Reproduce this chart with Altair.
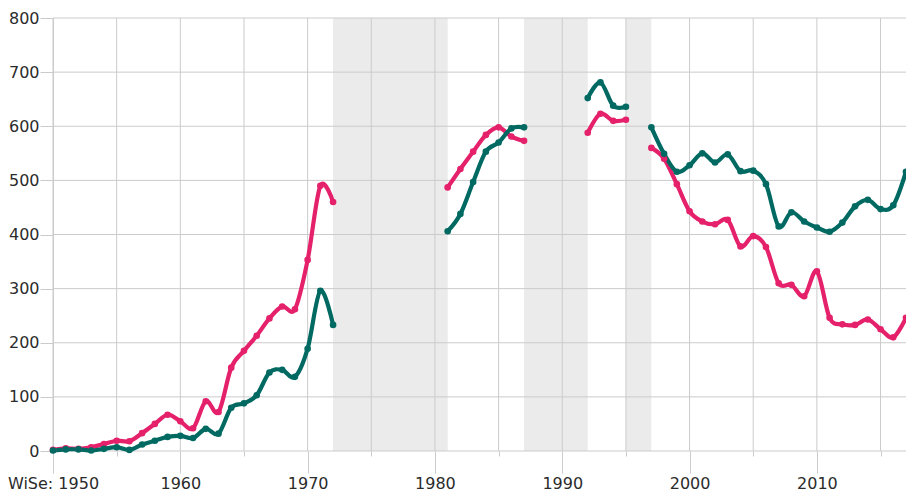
import altair as alt
import pandas as pd

# ---- data ----
seg1_years = [1950, 1951, 1952, 1953, 1954, 1955, 1956, 1957, 1958, 1959, 1960,
              1961, 1962, 1963, 1964, 1965, 1966, 1967, 1968, 1969, 1970, 1971, 1972]
seg1_pink = [2, 5, 4, 7, 13, 19, 18, 33, 50, 67, 55, 42, 92, 72, 154, 185, 213, 245, 267, 262, 353, 490, 460]
seg1_teal = [1, 3, 3, 1, 4, 7, 2, 12, 19, 26, 28, 24, 41, 32, 80, 88, 103, 145, 150, 137, 189, 296, 233]

seg2_years = [1981, 1982, 1983, 1984, 1985, 1986, 1987]
seg2_pink = [487, 521, 553, 584, 598, 581, 573]
seg2_teal = [406, 438, 497, 553, 570, 596, 598]

seg3_years = [1992, 1993, 1994, 1995]
seg3_pink = [588, 623, 610, 612]
seg3_teal = [652, 681, 638, 636]

seg4_years = [1997, 1998, 1999, 2000, 2001, 2002, 2003, 2004, 2005, 2006, 2007,
              2008, 2009, 2010, 2011, 2012, 2013, 2014, 2015, 2016, 2017]
seg4_pink = [560, 540, 493, 443, 424, 419, 427, 378, 397, 377, 310, 307, 286, 332, 246, 234, 233, 243, 225, 210, 246]
seg4_teal = [598, 549, 516, 528, 550, 533, 548, 517, 518, 493, 415, 441, 424, 413, 405, 422, 452, 464, 447, 454, 516]

band_start = [1972, 1987, 1995]
band_end = [1981, 1992, 1997]

x_grid = [1950, 1955, 1960, 1965, 1970, 1975, 1980, 1985, 1990, 1995, 2000, 2005, 2010, 2015]
y_ticks = [0, 100, 200, 300, 400, 500, 600, 700, 800]

series_names = ["pink", "teal"]
series_colors = ["#e5216b", "#006a62"]

# ---- build tables ----
rows = []
segments = [
    ("s1", seg1_years, seg1_pink, seg1_teal),
    ("s2", seg2_years, seg2_pink, seg2_teal),
    ("s3", seg3_years, seg3_pink, seg3_teal),
    ("s4", seg4_years, seg4_pink, seg4_teal),
]
for seg, yrs, pk, tl in segments:
    for y, p, t in zip(yrs, pk, tl):
        rows.append({"year": y, "value": p, "series": "pink", "seg": seg})
        rows.append({"year": y, "value": t, "series": "teal", "seg": seg})
df = pd.DataFrame(rows)

bands = pd.DataFrame({"start": band_start, "end": band_end})
vgrid = pd.DataFrame({"gx": x_grid})
hgrid = pd.DataFrame({"gy": y_ticks})

XDOM = [1950, 2017]
YDOM = [0, 800]
GRID = "#cbcbcb"
FONT = "DejaVu Sans"
LABEL = "#2b2b2b"

xscale = alt.Scale(domain=XDOM, nice=False, zero=False)
yscale = alt.Scale(domain=YDOM, nice=False)

x_axis = alt.Axis(
    values=x_grid, orient="bottom", format="d",
    tickSize={"condition": {"test": "datum.value % 10 === 0", "value": 22}, "value": 5},
    labelExpr="datum.value % 10 != 0 ? '' : (datum.value == 1950 ? 'WiSe: 1950' : datum.label)",
    domain=False, grid=False, title=None, tickColor=GRID,
    labelPadding=2, labelFont=FONT, labelFontSize=16, labelColor=LABEL,
    labelFlush=False, labelOverlap=False,
)
y_axis = alt.Axis(
    values=y_ticks, tickSize=13, domain=True, domainColor=GRID,
    grid=False, title=None, tickColor=GRID, labelPadding=1,
    labelFont=FONT, labelFontSize=16, labelColor=LABEL,
)

band_layer = alt.Chart(bands).mark_rect(color="#ebebeb").encode(
    x=alt.X("start:Q", scale=xscale),
    x2="end:Q",
)

vgrid_layer = alt.Chart(vgrid).mark_rule(color=GRID, strokeWidth=1).encode(
    x=alt.X("gx:Q", scale=xscale, axis=x_axis)
)
hgrid_layer = alt.Chart(hgrid).mark_rule(color=GRID, strokeWidth=1).encode(
    y=alt.Y("gy:Q", scale=yscale, axis=y_axis)
)

color = alt.Color("series:N", scale=alt.Scale(domain=series_names, range=series_colors), legend=None)

line_layer = alt.Chart(df).mark_line(strokeWidth=4.2, interpolate="cardinal").encode(
    x=alt.X("year:Q", scale=xscale),
    y=alt.Y("value:Q", scale=yscale),
    color=color,
    detail="seg:N",
    order="year:Q",
)

point_layer = alt.Chart(df).mark_circle(size=44, opacity=1).encode(
    x=alt.X("year:Q", scale=xscale),
    y=alt.Y("value:Q", scale=yscale),
    color=color,
)

chart = alt.layer(band_layer, vgrid_layer, hgrid_layer, line_layer, point_layer).properties(
    width=853, height=433,
    autosize=alt.AutoSizeParams(type="none"),
    padding={"left": 45, "top": 10, "right": 0, "bottom": 43},
).configure_view(stroke=None)

chart.save("out.html", embed_options={"renderer": "svg", "actions": False})
